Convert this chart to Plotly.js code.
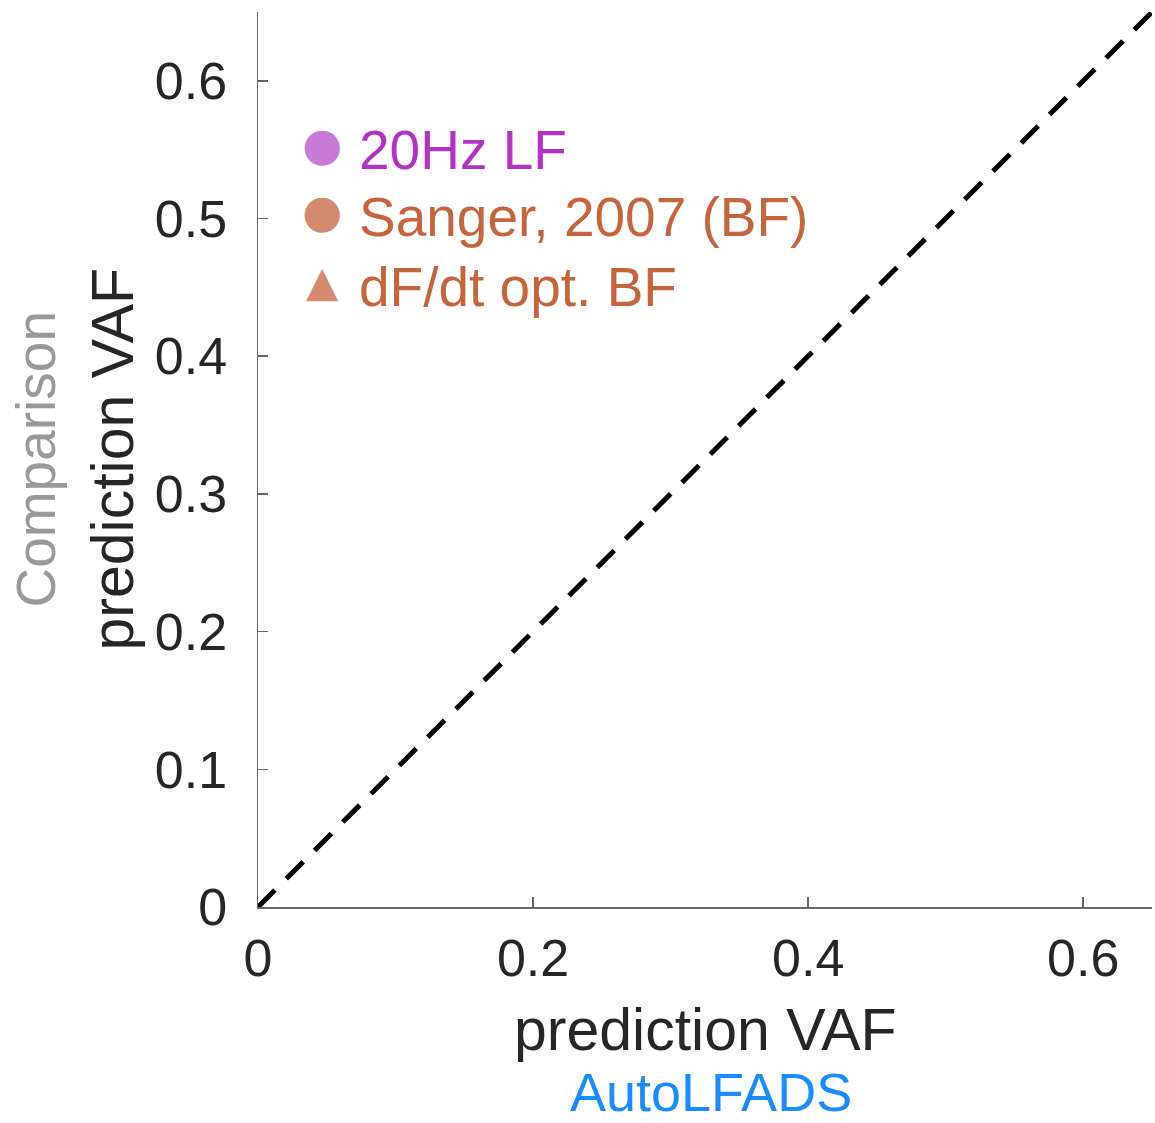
<!DOCTYPE html>
<html>
<head>
<meta charset="utf-8">
<script src="https://cdn.plot.ly/plotly-3.0.1.min.js"></script>
<style>html,body{margin:0;padding:0;background:#fff;}#chart{width:1155px;height:1123px;}</style>
</head>
<body>
<div id="chart"></div>
<script>
// Data
var diagX = [0, 0.65];
var diagY = [0, 0.65];
var xTicks = [0, 0.2, 0.4, 0.6];
var xTickLabels = ["0", "0.2", "0.4", "0.6"];
var yTicks = [0, 0.1, 0.2, 0.3, 0.4, 0.5, 0.6];
var yTickLabels = ["0", "0.1", "0.2", "0.3", "0.4", "0.5", "0.6"];
var seriesNames = ["20Hz LF", "Sanger, 2007 (BF)", "dF/dt opt. BF"];
var seriesTextColors = ["#b033c4", "#c4653d", "#c4653d"];
var seriesMarkerColors = ["#c77bd6", "#d48a6f", "#d48a6f"];
var seriesGlyphs = ["\u25CF", "\u25CF", "\u25B2"];

var FONT = "Arial, 'Liberation Sans', Helvetica, sans-serif";

var traces = [{
  x: diagX, y: diagY, mode: "lines", type: "scatter",
  line: {color: "#000", width: 5, dash: "24px,16px"},
  showlegend: false, hoverinfo: "skip"
}];

// legend (text-based) placement in paper coordinates
var legendTextX = 0.1107;
var legendGlyphX = 0.0716;
var legendRowY = [0.8458, 0.7709, 0.6927];
var glyphOffsetY = 0.0067;
var glyphSizes = [46, 46, 42];

var annotations = [
  {text: "prediction VAF", xref: "paper", yref: "paper", x: 0.5, y: -0.1374,
   xanchor: "center", yanchor: "middle", showarrow: false,
   font: {family: FONT, size: 59, color: "#262626"}},
  {text: "AutoLFADS", xref: "paper", yref: "paper", x: 0.507, y: -0.2067,
   xanchor: "center", yanchor: "middle", showarrow: false,
   font: {family: FONT, size: 54, color: "#1a8cff"}},
  {text: "Comparison", xref: "paper", yref: "paper", x: -0.2494, y: 0.5,
   xanchor: "center", yanchor: "middle", showarrow: false, textangle: -90,
   font: {family: FONT, size: 55, color: "#999999"}},
  {text: "prediction VAF", xref: "paper", yref: "paper", x: -0.1633, y: 0.5,
   xanchor: "center", yanchor: "middle", showarrow: false, textangle: -90,
   font: {family: FONT, size: 59, color: "#262626"}}
];
for (var i = 0; i < seriesNames.length; i++) {
  annotations.push({
    text: seriesNames[i], xref: "paper", yref: "paper", x: legendTextX, y: legendRowY[i],
    xanchor: "left", yanchor: "middle", showarrow: false,
    font: {family: FONT, size: 55, color: seriesTextColors[i]}
  });
  annotations.push({
    text: seriesGlyphs[i], xref: "paper", yref: "paper", x: legendGlyphX, y: legendRowY[i] + glyphOffsetY,
    xanchor: "center", yanchor: "middle", showarrow: false,
    font: {family: "'DejaVu Sans', sans-serif", size: glyphSizes[i], color: seriesMarkerColors[i]}
  });
}

var layout = {
  width: 1155, height: 1123,
  margin: {l: 258, r: 3, t: 12, b: 216},
  paper_bgcolor: "#fff", plot_bgcolor: "#fff",
  font: {family: FONT, size: 52, color: "#262626"},
  showlegend: false,
  xaxis: {
    range: [0, 0.65], tickmode: "array", tickvals: xTicks, ticktext: xTickLabels,
    ticks: "inside", ticklen: 10, tickwidth: 1.5, tickcolor: "#666",
    showline: true, linecolor: "#666", linewidth: 1.5,
    showgrid: false, zeroline: false, mirror: false,
    tickfont: {family: FONT, size: 52, color: "#262626"},
    ticklabelstandoff: 5, fixedrange: true
  },
  yaxis: {
    range: [0, 0.65], tickmode: "array", tickvals: yTicks, ticktext: yTickLabels,
    ticks: "inside", ticklen: 10, tickwidth: 1.5, tickcolor: "#666",
    showline: true, linecolor: "#666", linewidth: 1.5,
    showgrid: false, zeroline: false, mirror: false,
    tickfont: {family: FONT, size: 52, color: "#262626"},
    ticklabelstandoff: 19, fixedrange: true
  },
  annotations: annotations
};

Plotly.newPlot("chart", traces, layout, {displayModeBar: false, staticPlot: true});
</script>
</body>
</html>
